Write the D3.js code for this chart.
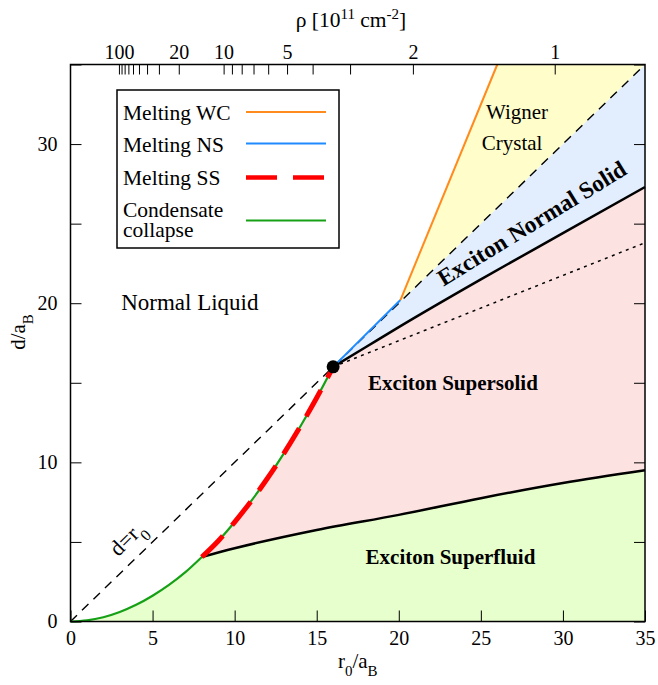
<!DOCTYPE html>
<html>
<head>
<meta charset="utf-8">
<script src="https://cdn.jsdelivr.net/npm/d3@7"></script>
<style>
  body { margin: 0; background: #fff; }
  svg text { font-family: "Liberation Serif", "DejaVu Serif", serif; fill: #000; }
</style>
</head>
<body>
<div id="chart"></div>
<script>
// phase boundaries, r0/aB vs d/aB
const collapseR = [0, 1, 2, 3, 4, 5, 6, 7, 8, 9, 10, 11, 12, 13, 14, 15, 16];
const collapseD = [0, 0.07, 0.27, 0.6, 1.05, 1.62, 2.3, 3.1, 4.05, 5.06, 6.25, 7.56, 9.0, 10.56, 12.25, 14.06, 16.0];
const meltSSR = [8, 9, 10, 11, 12, 13, 14, 15, 16];
const meltSSD = [4.05, 5.06, 6.25, 7.56, 9.0, 10.56, 12.25, 14.06, 16.0];
const superfluidR = [8, 10, 15, 20, 25, 30, 35];
const superfluidD = [4.05, 4.6, 5.75, 6.7, 7.75, 8.7, 9.5];
const normalSolidR = [16, 18, 20, 25, 30, 35];
const normalSolidD = [16, 17.25, 18.5, 21.5, 24.4, 27.3];
const dottedR = [16, 35];
const dottedD = [16, 23.8];
const meltNSR = [16, 20.1];
const meltNSD = [16, 20.2];
const meltWCR = [20.1, 26];
const meltWCD = [20.2, 35];
const diagR = [0, 35];
const diagD = [0, 35];
const tripleR = [16];
const tripleD = [16];

// axes
const xTicks = [0, 5, 10, 15, 20, 25, 30, 35];
const yTicks = [0, 5, 10, 15, 20, 25, 30, 35];
const yLabels = [0, 10, 20, 30];
const rhoTicks = [100, 90, 80, 70, 60, 50, 40, 30, 20, 10, 9, 8, 7, 6, 5, 4, 3, 2, 1];
const rhoLabels = [100, 20, 10, 5, 2, 1];
const r0AtRho1 = 29.5; // r0/aB where rho = 1e11 cm^-2

const legendNames = ["Melting WC", "Melting NS", "Melting SS", "Condensate collapse"];

const COLORS = {
  wc: "#ff8a1e", ns: "#1f8bff", ss: "#ff0000", cc: "#16a016",
  fillSF: "#e6ffcc", fillSS: "#fde2e2", fillNS: "#e2eefd", fillWC: "#fffdca"
};

const MARGIN = { TOP: 64.5, BOTTOM: 63.5, LEFT: 70.5, RIGHT: 13 };
const WIDTH = 658 - MARGIN.LEFT - MARGIN.RIGHT;
const HEIGHT = 685 - MARGIN.TOP - MARGIN.BOTTOM;

const svg = d3.select("#chart")
  .append("svg")
  .attr("width", 658)
  .attr("height", 685);

const g = svg.append("g")
  .attr("transform", `translate(${MARGIN.LEFT}, ${MARGIN.TOP})`);

const x = d3.scaleLinear().domain([0, 35]).range([0, WIDTH]);
const y = d3.scaleLinear().domain([0, 35]).range([HEIGHT, 0]);

const line = d3.line().x(d => x(d[0])).y(d => y(d[1]));
const smooth = d3.line().x(d => x(d[0])).y(d => y(d[1])).curve(d3.curveMonotoneX);

const collapse = d3.zip(collapseR, collapseD);
const meltSS = d3.zip(meltSSR, meltSSD);
const superfluid = d3.zip(superfluidR, superfluidD);
const normalSolid = d3.zip(normalSolidR, normalSolidD);
const corner = [[35, 35]];

// filled regions
const sfPoly = collapse.filter(d => d[0] <= 8)
  .concat(superfluid.slice(1), [[35, 0], [0, 0]]);
const ssPoly = meltSS.concat(normalSolid.slice(1), superfluid.slice().reverse());
const nsPoly = normalSolid.concat(corner, [[16, 16]]);
const wcPoly = [[meltWCR[0], meltWCD[0]], [meltWCR[1], meltWCD[1]], [35, 35], [meltWCR[0], meltWCR[0]]];

g.append("path").attr("d", line(sfPoly)).attr("fill", COLORS.fillSF);
g.append("path").attr("d", line(ssPoly)).attr("fill", COLORS.fillSS);
g.append("path").attr("d", line(nsPoly)).attr("fill", COLORS.fillNS);
g.append("path").attr("d", line(wcPoly)).attr("fill", COLORS.fillWC);

// d = r0
g.append("path")
  .attr("d", line(d3.zip(diagR, diagD)))
  .attr("fill", "none").attr("stroke", "#000").attr("stroke-width", 1.4)
  .attr("stroke-dasharray", "9,7");

g.append("path")
  .attr("d", line(d3.zip(dottedR, dottedD)))
  .attr("fill", "none").attr("stroke", "#000").attr("stroke-width", 1.5)
  .attr("stroke-dasharray", "3,4.5");

g.append("path")
  .attr("d", smooth(superfluid))
  .attr("fill", "none").attr("stroke", "#000").attr("stroke-width", 2.5);

g.append("path")
  .attr("d", smooth(normalSolid))
  .attr("fill", "none").attr("stroke", "#000").attr("stroke-width", 2.5);

g.append("path")
  .attr("d", smooth(collapse))
  .attr("fill", "none").attr("stroke", COLORS.cc).attr("stroke-width", 2.2);

g.append("path")
  .attr("d", smooth(meltSS))
  .attr("fill", "none").attr("stroke", COLORS.ss).attr("stroke-width", 5)
  .attr("stroke-dasharray", "30,14");

g.append("path")
  .attr("d", line(d3.zip(meltNSR, meltNSD)))
  .attr("fill", "none").attr("stroke", COLORS.ns).attr("stroke-width", 2);

g.append("path")
  .attr("d", line(d3.zip(meltWCR, meltWCD)))
  .attr("fill", "none").attr("stroke", COLORS.wc).attr("stroke-width", 2);

g.selectAll("circle.triple")
  .data(d3.zip(tripleR, tripleD))
  .enter().append("circle")
  .attr("class", "triple")
  .attr("cx", d => x(d[0]))
  .attr("cy", d => y(d[1]))
  .attr("r", 6.5)
  .attr("fill", "#000");

// axes, ticks pointing inward
function styleAxis(sel) {
  sel.select(".domain").remove();
  sel.selectAll(".tick line").attr("stroke", "#000").attr("stroke-width", 1);
  sel.selectAll(".tick text")
    .attr("font-family", "Liberation Serif, serif")
    .attr("font-size", 20);
}

g.append("g")
  .attr("transform", `translate(0, ${HEIGHT})`)
  .call(d3.axisBottom(x).tickValues(xTicks).tickSizeInner(-11).tickSizeOuter(0).tickPadding(9))
  .call(styleAxis);

g.append("g")
  .call(d3.axisLeft(y).tickValues(yTicks)
    .tickFormat(d => yLabels.includes(d) ? d : "")
    .tickSizeInner(-11).tickSizeOuter(0).tickPadding(13))
  .call(styleAxis);

g.append("g")
  .attr("transform", `translate(${WIDTH}, 0)`)
  .call(d3.axisRight(y).tickValues(yTicks).tickFormat("").tickSizeInner(-11).tickSizeOuter(0))
  .call(styleAxis);

// density axis on top: r0 ~ rho^-1/2
const rho = d3.scalePow().exponent(-0.5)
  .domain([1, 4])
  .range([x(r0AtRho1), x(r0AtRho1 / 2)]);

g.append("g")
  .call(d3.axisTop(rho).tickValues(rhoTicks)
    .tickFormat(d => rhoLabels.includes(d) ? d : "")
    .tickSizeInner(-10).tickSizeOuter(0).tickPadding(6))
  .call(styleAxis);

g.append("rect")
  .attr("width", WIDTH).attr("height", HEIGHT)
  .attr("fill", "none").attr("stroke", "#000").attr("stroke-width", 1.5);

// axis titles
const xt = svg.append("text")
  .attr("x", MARGIN.LEFT + WIDTH / 2).attr("y", 668)
  .attr("text-anchor", "middle").attr("font-size", 21);
xt.append("tspan").text("r");
xt.append("tspan").attr("baseline-shift", "sub").attr("font-size", 15).text("0");
xt.append("tspan").text("/a");
xt.append("tspan").attr("baseline-shift", "sub").attr("font-size", 15).text("B");

const yt = svg.append("text")
  .attr("transform", "translate(25, 332) rotate(-90)")
  .attr("text-anchor", "middle").attr("font-size", 21);
yt.append("tspan").text("d/a");
yt.append("tspan").attr("baseline-shift", "sub").attr("font-size", 15).text("B");

const tt = svg.append("text")
  .attr("x", 351).attr("y", 27)
  .attr("text-anchor", "middle").attr("font-size", 21.5);
tt.append("tspan").text("\u03c1 [10");
tt.append("tspan").attr("baseline-shift", "super").attr("font-size", 15).text("11");
tt.append("tspan").text(" cm");
tt.append("tspan").attr("baseline-shift", "super").attr("font-size", 15).text("-2");
tt.append("tspan").text("]");

// region labels
function label(r, d, txt, bold, size, rot) {
  return g.append("text")
    .attr("transform", `translate(${x(r)}, ${y(d)}) rotate(${rot || 0})`)
    .attr("text-anchor", "middle")
    .attr("font-size", size)
    .attr("font-weight", bold ? "bold" : "normal")
    .text(txt);
}
label(7.27, 19.55, "Normal Liquid", false, 23);
label(27.2, 31.6, "Wigner", false, 21);
label(26.9, 29.65, "Crystal", false, 21);
label(28.35, 24.6, "Exciton Normal Solid", true, 23.5, -31.5);
label(23.3, 14.55, "Exciton Supersolid", true, 21);
label(23.15, 3.6, "Exciton Superfluid", true, 21);

const dl = g.append("text")
  .attr("transform", `translate(${x(3.75)}, ${y(4.9)}) rotate(-45)`)
  .attr("text-anchor", "middle").attr("font-size", 22);
dl.append("tspan").text("d=r");
dl.append("tspan").attr("baseline-shift", "sub").attr("font-size", 16).text("0");

// legend
const lg = svg.append("g");
lg.append("rect")
  .attr("x", 117).attr("y", 90).attr("width", 222).attr("height", 158)
  .attr("fill", "#fff").attr("stroke", "#000").attr("stroke-width", 1.5);

const rows = [
  { y: 112, base: [119.5] },
  { y: 143.5, base: [151.5] },
  { y: 177.5, base: [185] },
  { y: 220.5, base: [216.5, 237] }
];
const legendStyle = [
  { color: COLORS.wc, width: 2, dash: null },
  { color: COLORS.ns, width: 2, dash: null },
  { color: COLORS.ss, width: 4.5, dash: "31,16" },
  { color: COLORS.cc, width: 2.2, dash: null }
];
legendNames.forEach((name, i) => {
  const words = i === 3 ? ["Condensate", "collapse"] : [name];
  words.forEach((w, j) => {
    lg.append("text")
      .attr("x", 123).attr("y", rows[i].base[j])
      .attr("font-size", 21.5)
      .text(w);
  });
  lg.append("line")
    .attr("x1", 246).attr("x2", 326)
    .attr("y1", rows[i].y).attr("y2", rows[i].y)
    .attr("stroke", legendStyle[i].color)
    .attr("stroke-width", legendStyle[i].width)
    .attr("stroke-dasharray", legendStyle[i].dash);
});
</script>
</body>
</html>
